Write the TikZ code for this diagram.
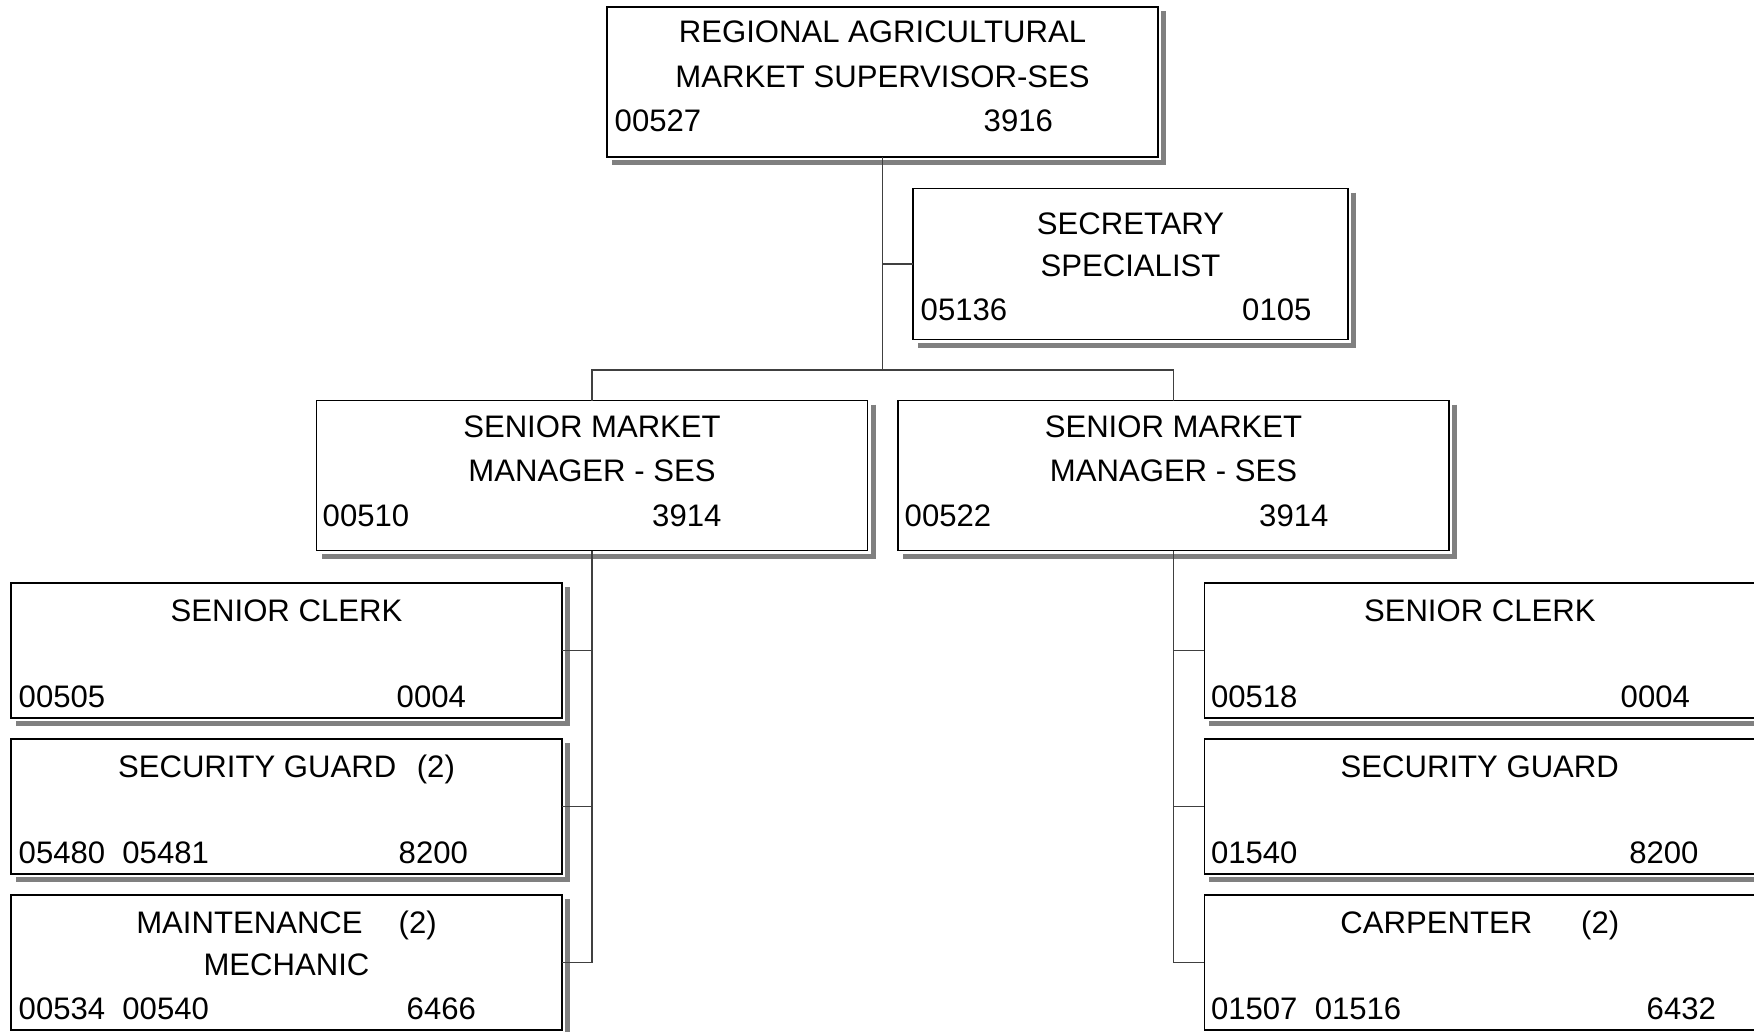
\documentclass[tikz,border=0pt]{standalone}
\usepackage{fontspec}
\setmainfont{Liberation Sans}
\usetikzlibrary{positioning,calc}

\begin{document}
\begin{tikzpicture}[x=0.1mm,y=-0.1mm]
\tikzstyle{post}=[rectangle,draw=black,line width=0.16mm,fill=white,
inner sep=0pt,outer sep=0pt,minimum width=55.1mm,minimum height=13.5mm,
node distance=15.6mm]
\tikzstyle{wide}=[post,minimum height=15mm]
\tikzstyle{ttl}=[inner sep=0pt,text height=6.3pt,text depth=0pt,
font=\fontsize{8.85pt}{12pt}\selectfont]
\tikzstyle{num}=[ttl,anchor=west]
\tikzstyle{wire}=[draw=black!75,line width=0.15mm]
\tikzstyle{drop}=[draw=black!50,line width=0.5mm]

\useasboundingbox (0,0) rectangle (1754,1031);

% upper levels
\node[wide] at (882.5,82) (sup) {};
\node[wide,minimum width=43.5mm,minimum height=15.1mm] at (1130.5,264) (sec) {};
\node[wide] at (592,475.5) (smmL) {};
\node[wide] at (1173.5,475.5) (smmR) {};
\coordinate (fork) at (882.5,370);

% the two columns of staff
\node[post] at (286.5,650.5) (clerkL) {};
\node[post,below of =clerkL] (guardL) {};
\node[post,below of =guardL] (maintL) {};
\node[post] at (1479.8,650.5) (clerkR) {};
\node[post,below of =clerkR] (guardR) {};
\node[post,below of =guardR] (carp) {};

% drop shadows
\draw[drop] ($(sup.north east)+(5.5,4)$) -- ($(sup.south east)+(5.5,5.5)$) -- ($(sup.south west)+(5,5.5)$);
\draw[drop] ($(sec.north east)+(5.5,4)$) -- ($(sec.south east)+(5.5,5.5)$) -- ($(sec.south west)+(5,5.5)$);
\draw[drop] ($(smmL.north east)+(5.5,4)$) -- ($(smmL.south east)+(5.5,5.5)$) -- ($(smmL.south west)+(5,5.5)$);
\draw[drop] ($(smmR.north east)+(5.5,4)$) -- ($(smmR.south east)+(5.5,5.5)$) -- ($(smmR.south west)+(5,5.5)$);
\draw[drop] ($(clerkL.north east)+(5.5,4)$) -- ($(clerkL.south east)+(5.5,5.5)$) -- ($(clerkL.south west)+(5,5.5)$);
\draw[drop] ($(guardL.north east)+(5.5,4)$) -- ($(guardL.south east)+(5.5,5.5)$) -- ($(guardL.south west)+(5,5.5)$);
\draw[drop] ($(maintL.north east)+(5.5,4)$) -- ($(maintL.south east)+(5.5,5.5)$) -- ($(maintL.south west)+(5,5.5)$);
\draw[drop] ($(clerkR.north east)+(5.5,4)$) -- ($(clerkR.south east)+(5.5,5.5)$) -- ($(clerkR.south west)+(5,5.5)$);
\draw[drop] ($(guardR.north east)+(5.5,4)$) -- ($(guardR.south east)+(5.5,5.5)$) -- ($(guardR.south west)+(5,5.5)$);
\draw[drop] ($(carp.north east)+(5.5,4)$) -- ($(carp.south east)+(5.5,5.5)$) -- ($(carp.south west)+(5,5.5)$);

% texts
\node[ttl] at ([shift={(0,24)}]sup.north) (supA) {REGIONAL AGRICULTURAL};
\node[ttl] at ([shift={(0,69)}]sup.north) (supB) {MARKET SUPERVISOR-SES};
\node[num] at ([shift={(7,113)}]sup.north west) (supC) {00527};
\node[num] at ([shift={(376,113)}]sup.north west) (supD) {3916};

\node[ttl] at ([shift={(0,34.5)}]sec.north) (secA) {SECRETARY};
\node[ttl] at ([shift={(0,77)}]sec.north) (secB) {SPECIALIST};
\node[num] at ([shift={(7,121)}]sec.north west) (secC) {05136};
\node[num] at ([shift={(328.5,121)}]sec.north west) (secD) {0105};

\node[ttl] at ([shift={(0,26)}]smmL.north) (smmLA) {SENIOR MARKET};
\node[ttl] at ([shift={(0,69.5)}]smmL.north) (smmLB) {MANAGER - SES};
\node[num] at ([shift={(5.5,115)}]smmL.north west) (smmLC) {00510};
\node[num] at ([shift={(335,115)}]smmL.north west) (smmLD) {3914};

\node[ttl] at ([shift={(0,26)}]smmR.north) (smmRA) {SENIOR MARKET};
\node[ttl] at ([shift={(0,69.5)}]smmR.north) (smmRB) {MANAGER - SES};
\node[num] at ([shift={(6,115)}]smmR.north west) (smmRC) {00522};
\node[num] at ([shift={(360.5,115)}]smmR.north west) (smmRD) {3914};

\node[ttl] at ([shift={(0,27)}]clerkL.north) (clerkLA) {SENIOR CLERK};
\node[num] at ([shift={(7,113)}]clerkL.north west) (clerkLC) {00505};
\node[num] at ([shift={(385,113)}]clerkL.north west) (clerkLD) {0004};

\node[ttl] at ([shift={(0,27)}]guardL.north) (guardLA) {SECURITY GUARD\hspace{2.06mm}(2)};
\node[num] at ([shift={(7,113)}]guardL.north west) (guardLC) {05480~~05481};
\node[num] at ([shift={(387,113)}]guardL.north west) (guardLD) {8200};

\node[ttl] at ([shift={(0,27)}]maintL.north) (maintLA) {MAINTENANCE\hspace{3.6mm}(2)};
\node[ttl] at ([shift={(0,69)}]maintL.north) (maintLB) {MECHANIC};
\node[num] at ([shift={(7,113)}]maintL.north west) (maintLC) {00534~~00540};
\node[num] at ([shift={(395,113)}]maintL.north west) (maintLD) {6466};

\node[ttl] at ([shift={(0,27)}]clerkR.north) (clerkRA) {SENIOR CLERK};
\node[num] at ([shift={(6,113)}]clerkR.north west) (clerkRC) {00518};
\node[num] at ([shift={(415.7,113)}]clerkR.north west) (clerkRD) {0004};

\node[ttl] at ([shift={(0,27)}]guardR.north) (guardRA) {SECURITY GUARD};
\node[num] at ([shift={(6,113)}]guardR.north west) (guardRC) {01540};
\node[num] at ([shift={(424.3,113)}]guardR.north west) (guardRD) {8200};

\node[ttl] at ([shift={(0,27)}]carp.north) (carpA) {CARPENTER\hspace{4.9mm}(2)};
\node[num] at ([shift={(6,113)}]carp.north west) (carpC) {01507~~01516};
\node[num] at ([shift={(441.7,113)}]carp.north west) (carpD) {6432};

% connectors
\path[wire] (sup.south) -- (fork);
\path[wire] (sec.west) -- (sec.west -| sup.south);
\path[wire] (smmL.north) |- (fork) -| (smmR.north);
\path[wire] (smmL.south) |- (maintL.east);
\path[wire] (clerkL.east) -- (clerkL.east -| smmL.south);
\path[wire] (guardL.east) -- (guardL.east -| smmL.south);
\path[wire] (smmR.south) |- (carp.west);
\path[wire] (clerkR.west) -- (clerkR.west -| smmR.south);
\path[wire] (guardR.west) -- (guardR.west -| smmR.south);

\end{tikzpicture}
\end{document}
